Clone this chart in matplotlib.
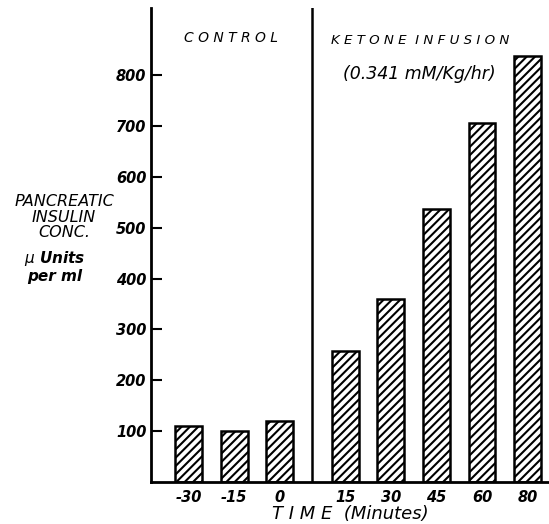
import numpy as np
import matplotlib
matplotlib.use('Agg')
import matplotlib.pyplot as plt

plt.rcParams['hatch.linewidth'] = 1.5

# pancreatic insulin concentration (micro units per ml)
times = ['-30', '-15', '0', '15', '30', '45', '60', '80']
insulin = [110, 100, 120, 258, 360, 538, 706, 838]
positions = [0, 1, 2, 3.44, 4.44, 5.44, 6.44, 7.44]
divider = 2.72

fig = plt.figure(figsize=(5.49, 5.24), dpi=100)
ax = fig.add_axes([0.2745, 0.0805, 0.7255, 0.9035])

ax.bar(positions, insulin, width=0.59, facecolor='white', edgecolor='black',
       linewidth=1.8, hatch='////')
ax.axvline(divider, color='black', linewidth=1.8)

ax.set_xlim(-0.83, 7.91)
ax.set_ylim(0, 932)
ax.set_yticks([100, 200, 300, 400, 500, 600, 700, 800])
ax.set_xticks(positions)
ax.set_xticklabels(times)

for s in ['top', 'right']:
    ax.spines[s].set_visible(False)
for s in ['left', 'bottom']:
    ax.spines[s].set_linewidth(2)

ax.tick_params(axis='y', direction='in', length=8, width=1.5, pad=3,
               labelsize=10.5)
ax.tick_params(axis='x', length=0, pad=6, labelsize=10.5)
for lab in ax.get_xticklabels() + ax.get_yticklabels():
    lab.set_fontstyle('italic')
    lab.set_fontweight('bold')

ax.set_xlabel('T I M E  (Minutes)', fontsize=13, fontstyle='italic', labelpad=0)

ax.text(0.93, 873, 'C O N T R O L', ha='center', va='center', fontsize=10,
        fontstyle='italic')
ax.text(5.09, 868, 'K E T O N E  I N F U S I O N', ha='center', va='center',
        fontsize=9.6, fontstyle='italic')
ax.text(5.06, 803, '(0.341 mM/Kg/hr)', ha='center', va='center',
        fontsize=12.5, fontstyle='italic')

for txt, y in [('PANCREATIC', 202), ('INSULIN', 217), ('CONC.', 232)]:
    fig.text(64 / 549, 1 - y / 524, txt, ha='center', va='center',
             fontsize=11.5, fontstyle='italic')
for txt, y in [('$\\mu$ Units', 258), ('per ml', 276)]:
    fig.text(55 / 549, 1 - y / 524, txt, ha='center', va='center',
             fontsize=11, fontstyle='italic', fontweight='bold')

fig.savefig('out.png', dpi=100)
